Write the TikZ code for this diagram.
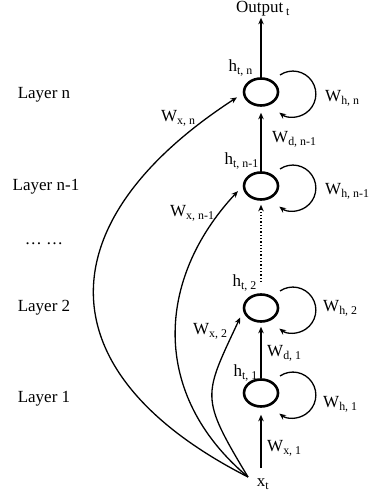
\documentclass[tikz,border=0pt]{standalone}
\usepackage{fontspec}
\setmainfont{Liberation Serif}
\usetikzlibrary{arrows.meta,shapes.geometric}

\begin{document}
\begin{tikzpicture}[x=1pt,y=1pt,>={Stealth[length=6.5pt,width=5.5pt]},
  every node/.style={font=\fontsize{17}{20}\selectfont,inner sep=1pt},
  cell/.style={ellipse,draw,line width=2.6pt,minimum width=34pt,minimum height=27pt,inner sep=0pt},
  conn/.style={line width=1.3pt}]
\useasboundingbox (0,0) rectangle (369,497);

% layer names
\node (ln)  [anchor=base] at (44,398) {Layer n};
\node (lnm) [anchor=base] at (46,306) {Layer n-1};
\node (ldot)[anchor=base] at (44,252) {\dots\ \dots};
\node (l2)  [anchor=base] at (44,185) {Layer 2};
\node (l1)  [anchor=base] at (44,94)  {Layer 1};

% cells
\node (hn)   [cell] at (261,405) {};
\node (hnm)  [cell] at (261,311) {};
\node (htwo) [cell] at (261,189) {};
\node (hone) [cell] at (261,104) {};
\node (xt)  [anchor=base] at (263,10) {x\textsubscript{t}};
\node (out) [anchor=base] at (263,484) {Output\,\textsubscript{t}};
\coordinate (fan) at (248,20);

% vertical links
\draw[conn,->] (hn) -- (hn |- out.south);
\draw[conn,->,shorten >=6pt] (hnm) -- (hn);
\draw[conn,->,dotted,shorten <=11pt,shorten >=4pt] (htwo) -- (hnm);
\draw[conn,->,shorten >=4pt] (hone) -- (htwo);
\draw[conn,->,shorten <=10pt,shorten >=7pt] (xt.north -| hone) -- (hone);

% recurrent loops
\foreach \c in {hn,hnm,htwo,hone}
  \draw[conn,->] (\c) ++(19,17) arc[start angle=124,end angle=-126,radius=23];

% input to upper layers
\draw[conn,->,shorten >=7pt] (fan) to[out=153,in=213,looseness=1.55] (hn.185);
\draw[conn,->,shorten >=7pt] (fan) to[out=140,in=227,looseness=1.12] (hnm.180);
\draw[conn,->,shorten >=7pt] (fan) to[out=121,in=245,looseness=1.45] (htwo.190);

% labels
\node (tn)   [anchor=base east] at (254,425) {h\textsubscript{t, n}};
\node (tnm)  [anchor=base east] at (260,332) {h\textsubscript{t, n-1}};
\node (t2)   [anchor=base east] at (258,210) {h\textsubscript{t, 2}};
\node (t1)   [anchor=base east] at (259,120) {h\textsubscript{t, 1}};
\node (whn)  [anchor=base west] at (324,395) {W\textsubscript{h, n}};
\node (whnm) [anchor=base west] at (324,302) {W\textsubscript{h, n-1}};
\node (wh2)  [anchor=base west] at (322,185) {W\textsubscript{h, 2}};
\node (wh1)  [anchor=base west] at (322,89)  {W\textsubscript{h, 1}};
\node (wdnm) [anchor=base west] at (271,354) {W\textsubscript{d, n-1}};
\node (wd1)  [anchor=base west] at (266,140) {W\textsubscript{d, 1}};
\node (wx1)  [anchor=base west] at (266,45)  {W\textsubscript{x, 1}};
\node (wxn)  [anchor=base west] at (160,375) {W\textsubscript{x, n}};
\node (wxnm) [anchor=base west] at (169,280) {W\textsubscript{x, n-1}};
\node (wx2)  [anchor=base west] at (192,162) {W\textsubscript{x, 2}};
\end{tikzpicture}
\end{document}
